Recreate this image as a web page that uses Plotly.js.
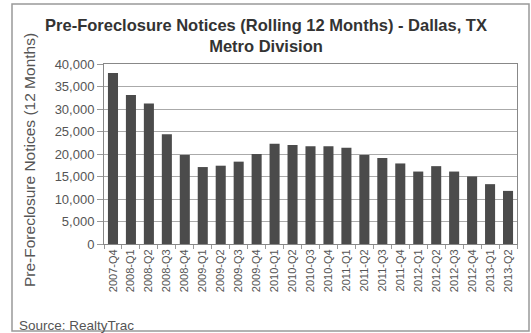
<!DOCTYPE html>
<html><head><meta charset="utf-8">
<script src="https://cdn.plot.ly/plotly-3.0.1.min.js"></script>
<style>html,body{margin:0;padding:0;background:#fff}#chart{width:531px;height:333px}</style>
</head><body><div id="chart"></div>
<script>
const quarters = ["2007-Q4","2008-Q1","2008-Q2","2008-Q3","2008-Q4","2009-Q1","2009-Q2","2009-Q3","2009-Q4","2010-Q1","2010-Q2","2010-Q3","2010-Q4","2011-Q1","2011-Q2","2011-Q3","2011-Q4","2012-Q1","2012-Q2","2012-Q3","2012-Q4","2013-Q1","2013-Q2"];
const notices = [38000,33100,31200,24400,19800,17100,17400,18300,20000,22300,22000,21700,21700,21400,19800,19100,17900,16100,17300,16100,15000,13300,11800];
const yTicks = [0,5000,10000,15000,20000,25000,30000,35000,40000];

const font = "Liberation Sans, Arial, sans-serif";
const L = 104, R = 14, T = 64, B = 89;
const PW = 531 - L - R, PH = 333 - T - B;
const px = v => (v - L) / PW;
const py = v => (333 - B - v) / PH;

const data = [{
  type: "bar", x: quarters, y: notices,
  marker: {color: "#4b4b4b", line: {width: 0}},
  hoverinfo: "x+y"
}];
const layout = {
  width: 531, height: 333,
  margin: {l: L, r: R, t: T, b: B},
  paper_bgcolor: "#fff", plot_bgcolor: "#fff",
  bargap: 0.44,
  showlegend: false,
  font: {family: font, color: "#555"},
  title: {
    text: "<b>Pre-Foreclosure Notices (Rolling 12 Months) - Dallas, TX<br>Metro Division</b>",
    font: {family: font, size: 16.5, color: "#333"},
    xref: "container", x: 266/531, xanchor: "center",
    yref: "container", y: 1 - 31/333, yanchor: "top"
  },
  xaxis: {
    type: "category", tickangle: -90,
    tickfont: {size: 11, color: "#555", family: font},
    ticks: "outside", ticklen: 4, tickcolor: "#999", tickson: "boundaries",
    showline: true, linecolor: "#888", linewidth: 1, mirror: true,
    showgrid: false
  },
  yaxis: {
    range: [0, 40000], tickvals: yTicks, tickformat: ",",
    tickfont: {size: 13, color: "#555", family: font},
    ticks: "outside", ticklen: 6, tickcolor: "#999",
    showline: true, linecolor: "#888", linewidth: 1, mirror: true,
    showgrid: true, gridcolor: "#aaa", gridwidth: 1, zeroline: false
  },
  annotations: [
    {text: "Pre-Foreclosure Notices (12 Months)", textangle: -90,
     xref: "paper", yref: "paper", x: px(29), y: py(160),
     xanchor: "center", yanchor: "middle", showarrow: false,
     font: {family: font, size: 15.5, color: "#555"}},
    {text: "Source: RealtyTrac", xref: "paper", yref: "paper",
     x: px(17), y: py(325), xanchor: "left", yanchor: "middle",
     showarrow: false, font: {family: font, size: 13.5, color: "#555"}}
  ],
  shapes: [
    {type: "rect", xref: "paper", yref: "paper",
     x0: px(12), x1: px(529), y0: py(331), y1: py(4),
     line: {color: "#999", width: 1.5}, fillcolor: "rgba(0,0,0,0)", layer: "below"}
  ]
};
Plotly.newPlot("chart", data, layout, {displayModeBar: false, staticPlot: true});
</script></body></html>
